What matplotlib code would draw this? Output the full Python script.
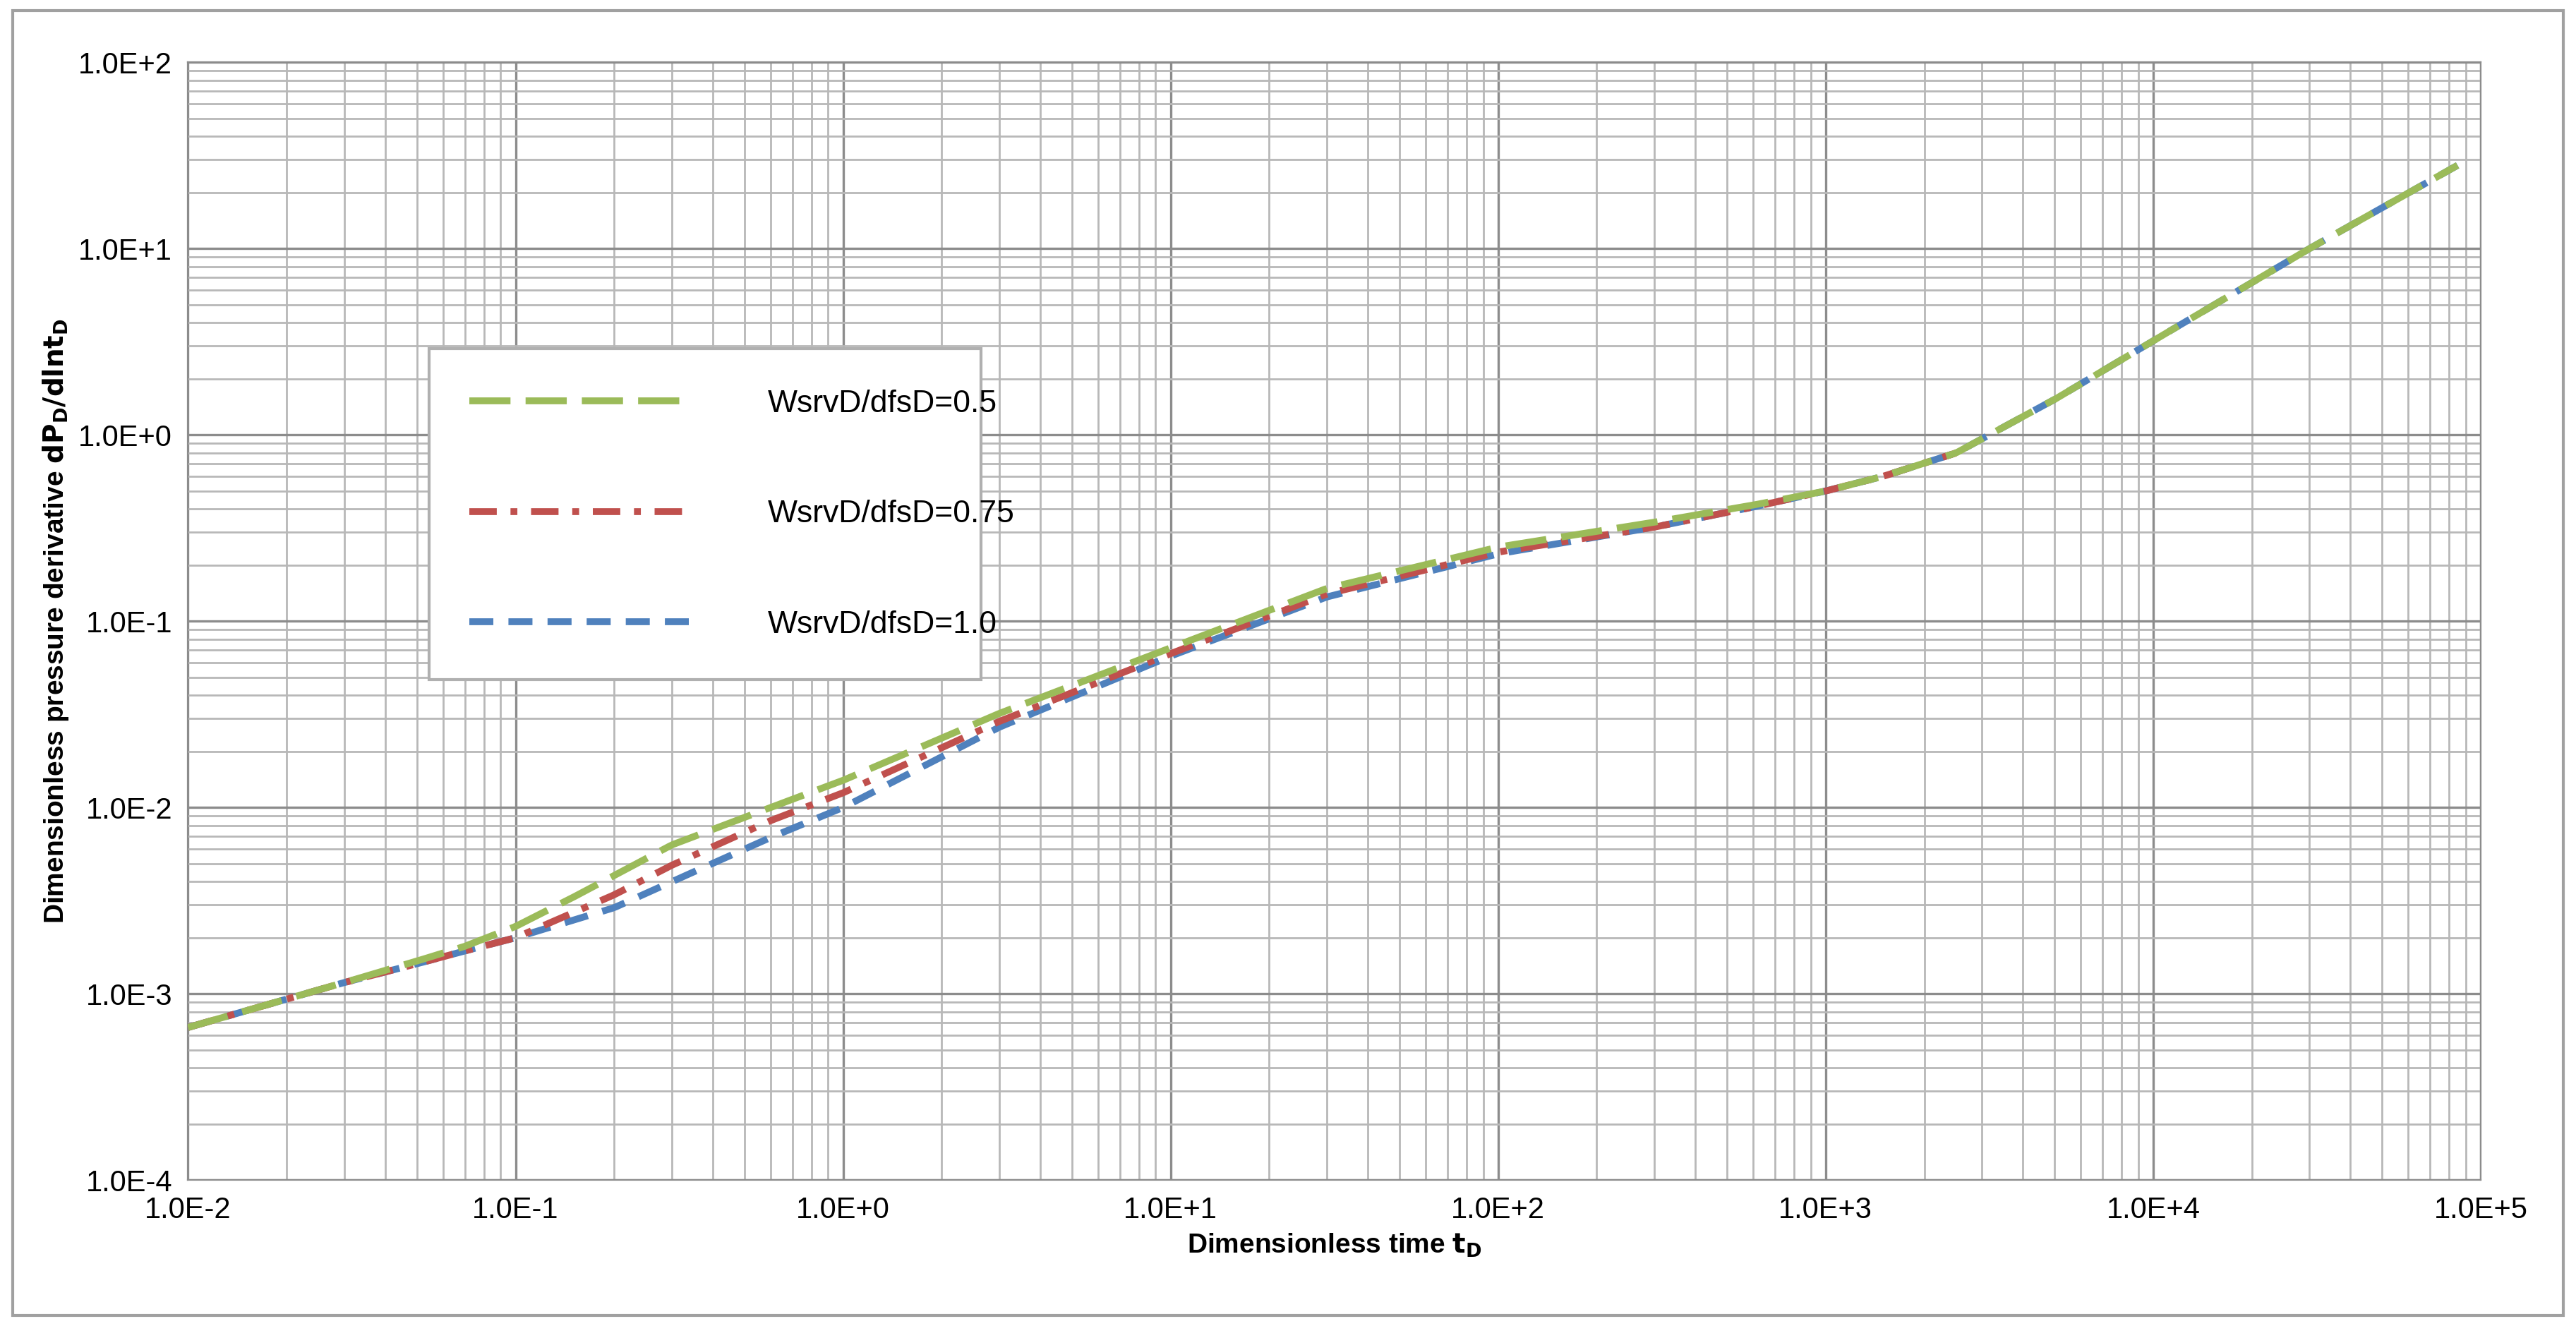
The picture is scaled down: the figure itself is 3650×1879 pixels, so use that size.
import numpy as np
import matplotlib

matplotlib.use("Agg")

import matplotlib.pyplot as plt
from matplotlib.ticker import LogLocator, FixedLocator, NullFormatter


# -------------------------------------------------------------------------
# Data
# -------------------------------------------------------------------------

t_green = [0.01, 0.03, 0.05, 0.07, 0.1, 0.15, 0.3, 0.6, 1.0, 3.0, 10.0, 30.0, 100.0, 300.0, 600.0, 1000.0, 1500.0, 2500.0, 5000.0, 1e4, 3e4, 8.5e4]
y_green = [6.6e-4, 1.15e-3, 1.5e-3, 1.8e-3, 2.3e-3, 3.3e-3, 6.3e-3, 1.0e-2, 1.4e-2, 3.2e-2, 7.2e-2, 1.5e-1, 2.5e-1, 3.4e-1, 4.2e-1, 5.0e-1, 6.0e-1, 8.0e-1, 1.55, 3.2, 10.0, 28.0]

t_red = [0.01, 0.03, 0.05, 0.07, 0.1, 0.2, 0.3, 0.6, 1.0, 3.0, 10.0, 30.0, 100.0, 300.0, 600.0, 1000.0, 1500.0, 2500.0]
y_red = [6.6e-4, 1.15e-3, 1.45e-3, 1.7e-3, 2.0e-3, 3.4e-3, 4.9e-3, 8.5e-3, 1.2e-2, 2.9e-2, 6.7e-2, 1.4e-1, 2.35e-1, 3.2e-1, 4.1e-1, 5.0e-1, 6.0e-1, 8.0e-1]

t_blue = [0.01, 0.03, 0.05, 0.07, 0.1, 0.2, 0.3, 0.6, 1.0, 3.0, 10.0, 30.0, 100.0, 300.0, 600.0, 1000.0, 1500.0, 2500.0, 5000.0, 1e4, 3e4, 8.5e4]
y_blue = [6.6e-4, 1.15e-3, 1.45e-3, 1.7e-3, 2.0e-3, 2.9e-3, 4.0e-3, 6.9e-3, 1.0e-2, 2.7e-2, 6.5e-2, 1.35e-1, 2.3e-1, 3.2e-1, 4.1e-1, 5.0e-1, 6.0e-1, 8.0e-1, 1.55, 3.2, 10.0, 28.0]

labels = ["WsrvD/dfsD=0.5", "WsrvD/dfsD=0.75", "WsrvD/dfsD=1.0"]

x_ticks = [1e-2, 1e-1, 1e0, 1e1, 1e2, 1e3, 1e4, 1e5]
x_tick_labels = ["1.0E-2", "1.0E-1", "1.0E+0", "1.0E+1", "1.0E+2", "1.0E+3", "1.0E+4", "1.0E+5"]
y_ticks = [1e-4, 1e-3, 1e-2, 1e-1, 1e0, 1e1, 1e2]
y_tick_labels = ["1.0E-4", "1.0E-3", "1.0E-2", "1.0E-1", "1.0E+0", "1.0E+1", "1.0E+2"]


# -------------------------------------------------------------------------
# Plot
# -------------------------------------------------------------------------

plt.rcParams["font.family"] = ["Liberation Sans Narrow", "Liberation Sans", "DejaVu Sans"]

fig = plt.figure(figsize=(18.25, 9.395), dpi=200)
ax = fig.add_axes([0.073, 0.11, 0.89, 0.843])

# outer frame like the spreadsheet chart area
fig.patches.append(plt.Rectangle((0.005, 0.008), 0.99, 0.984, transform=fig.transFigure,
                                 fill=False, edgecolor="#a0a0a0", linewidth=1.5))

def smooth(t, y):
    lt = np.log10(t)
    ly = np.log10(y)
    tt = np.linspace(lt[0], lt[-1], 600)
    return 10**tt, 10**np.interp(tt, lt, ly)

tg, yg = smooth(t_green, y_green)
tr, yr = smooth(t_red, y_red)
tb, yb = smooth(t_blue, y_blue)

ax.plot(tb, yb, color="#4f81bd", linewidth=3.5, dashes=(3.5, 2.2), label=labels[2], zorder=3)
ax.plot(tr, yr, color="#c0504d", linewidth=3.5, dashes=(4, 2, 1, 2), label=labels[1], zorder=4)
ax.plot(tg, yg, color="#9bbb59", linewidth=3.5, dashes=(6, 2.2), label=labels[0], zorder=5)

ax.set_xscale("log")
ax.set_yscale("log")
ax.set_xlim(1e-2, 1e5)
ax.set_ylim(1e-4, 1e2)

ax.xaxis.set_major_locator(FixedLocator(x_ticks))
ax.set_xticklabels(x_tick_labels, fontsize=15)
ax.yaxis.set_major_locator(FixedLocator(y_ticks))
ax.set_yticklabels(y_tick_labels, fontsize=15)
ax.xaxis.set_minor_locator(LogLocator(base=10, subs=np.arange(2, 10), numticks=20))
ax.yaxis.set_minor_locator(LogLocator(base=10, subs=np.arange(2, 10), numticks=20))
ax.xaxis.set_minor_formatter(NullFormatter())
ax.yaxis.set_minor_formatter(NullFormatter())

ax.grid(which="major", color="#8c8c8c", linewidth=1.2)
ax.grid(which="minor", color="#b8b8b8", linewidth=1.0)
ax.tick_params(which="both", length=0, pad=8)
for s in ax.spines.values():
    s.set_color("#8c8c8c")

ax.set_xlabel(r"Dimensionless time $\mathbf{t_D}$", fontsize=14, fontweight="bold",
              family=["Liberation Sans", "DejaVu Sans"])
ax.set_ylabel(r"Dimensionless pressure derivative $\mathbf{dP_D/dlnt_D}$", fontsize=14,
              fontweight="bold", family=["Liberation Sans", "DejaVu Sans"])

h, l = ax.get_legend_handles_labels()
leg = ax.legend(h[::-1], l[::-1], loc="upper left", bbox_to_anchor=(0.105, 0.474, 0.241, 0.27),
                mode="expand", fontsize=16, labelspacing=2.6, handlelength=7, handletextpad=2.5,
                borderpad=1.3, fancybox=False, framealpha=1, edgecolor="#b0b0b0",
                borderaxespad=0)
leg.get_frame().set_linewidth(1.5)

plt.savefig("out.png", dpi=200)
plt.close()
